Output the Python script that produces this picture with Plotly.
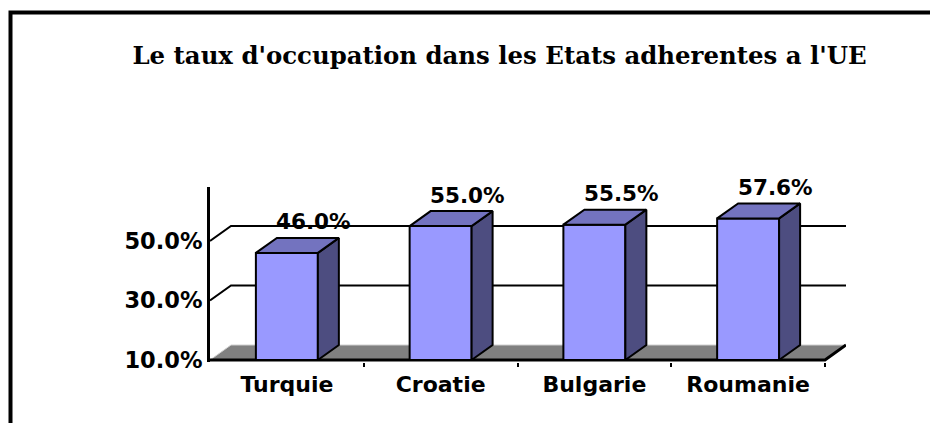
import plotly.graph_objects as go

# ---- data ----
categories = ["Turquie", "Croatie", "Bulgarie", "Roumanie"]
values = [46.0, 55.0, 55.5, 57.6]
y_tick_values = [10, 30, 50]
y_tick_labels = ["10.0%", "30.0%", "50.0%"]
title_text = "Le taux d'occupation dans les Etats adherentes a l'UE"

# ---- geometry / style (page pixels; the page body adds an 8px margin) ----
OFF = 8
W, H = 938 - OFF, 423 - OFF
def fx(px):  # page px -> figure px
    return px - OFF

floor_left_px, floor_right_px = fx(210), fx(825)   # front edge of the floor
floor_front_py = fx(360)
depth_x_px, depth_y_px = 21, 15                    # 3-D depth offset
plot_top_px, plot_bottom_px = fx(187), fx(362)
y_floor = 10.0
px_per_pct = 2.975
n = len(categories)
x_min = -0.5
x_front_max = n - 0.5
px_per_cat = (floor_right_px - floor_left_px) / (x_front_max - x_min)
dx = depth_x_px / px_per_cat
dy = depth_y_px / px_per_pct
x_max = x_front_max + dx
plot_right_px = floor_right_px + depth_x_px
y_lo = y_floor - (plot_bottom_px - floor_front_py) / px_per_pct
y_hi = y_floor + (floor_front_py - plot_top_px) / px_per_pct
bar_w = 0.403

FRONT = "#9999FF"
SIDE = "#4D4D80"
TOP = "#7373BF"
FLOOR = "#808080"

fig = go.Figure()

def poly(xs, ys, fill, lw=2, lc="black"):
    fig.add_trace(go.Scatter(
        x=xs + [xs[0]], y=ys + [ys[0]], mode="lines", fill="toself",
        fillcolor=fill, line=dict(color=lc, width=lw),
        hoverinfo="skip", showlegend=False))

def line(xs, ys, lw=2, lc="black"):
    fig.add_trace(go.Scatter(
        x=xs, y=ys, mode="lines", line=dict(color=lc, width=lw),
        hoverinfo="skip", showlegend=False))

# floor
poly([x_min, x_front_max, x_front_max + dx, x_min + dx],
     [y_floor, y_floor, y_floor + dy, y_floor + dy], FLOOR, lw=1, lc="#D0D0D0")
line([x_min, x_front_max, x_front_max + dx],
     [y_floor, y_floor, y_floor + dy], lw=3)

# side-wall + back-wall gridlines
gx, gy = [], []
for t in y_tick_values:
    if t == y_floor:
        continue
    gx += [x_min, x_min + dx, x_max, None]
    gy += [t, t + dy, t + dy, None]
line(gx, gy, lw=2)

# 3-D bars
for i, v in enumerate(values):
    l, r = i - bar_w / 2, i + bar_w / 2
    poly([l, r, r, l], [y_floor, y_floor, v, v], FRONT)
    poly([r, r + dx, r + dx, r], [y_floor, y_floor + dy, v + dy, v], SIDE)
    poly([l, r, r + dx, l + dx], [v, v, v + dy, v + dy], TOP)

# data labels
for i, v in enumerate(values):
    fig.add_annotation(
        x=i, y=v, text=f"{v:.1f}%", showarrow=False,
        xshift=27, yshift=31,
        font=dict(family="DejaVu Sans", size=21.5, color="black", weight="bold"))

axis_font = dict(family="DejaVu Sans", color="black", weight="bold")

fig.update_layout(
    width=W, height=H,
    margin=dict(l=floor_left_px, r=W - plot_right_px,
                t=plot_top_px, b=H - plot_bottom_px, pad=0),
    paper_bgcolor="white", plot_bgcolor="white",
    showlegend=False,
    title=dict(text=title_text, xref="container", yref="container",
               x=fx(499.5) / W, y=1 - fx(55) / H, xanchor="center", yanchor="middle",
               font=dict(family="DejaVu Serif", size=24.4, color="black", weight="bold")),
    xaxis=dict(range=[x_min, x_max], tickmode="array",
               tickvals=list(range(n)), ticktext=categories,
               showgrid=False, zeroline=False, showline=False, ticks="",
               tickfont=dict(size=22, **axis_font), ticklabelstandoff=7,
               minor=dict(tickmode="array", tickvals=[k + 0.5 for k in range(n)],
                          ticks="outside", ticklen=4, tickwidth=2,
                          tickcolor="black", showgrid=False),
               fixedrange=True),
    yaxis=dict(range=[y_lo, y_hi], tickmode="array",
               tickvals=y_tick_values, ticktext=y_tick_labels,
               showgrid=False, zeroline=False, showline=True,
               linecolor="black", linewidth=3, ticks="",
               tickfont=dict(size=22.5, **axis_font), ticklabelstandoff=0,
               fixedrange=True),
)

# outer frame (open at right / bottom edges of the picture)
pw = plot_right_px - floor_left_px
ph = plot_bottom_px - plot_top_px
def px_to_paper_x(px):
    return (px - floor_left_px) / pw
def px_to_paper_y(py):
    return (plot_bottom_px - py) / ph
fig.add_shape(type="rect", xref="paper", yref="paper",
              x0=px_to_paper_x(fx(10.5)), x1=px_to_paper_x(W + 20),
              y0=px_to_paper_y(fx(12.5)), y1=px_to_paper_y(H + 20),
              line=dict(color="black", width=4), fillcolor="rgba(0,0,0,0)",
              layer="above")

fig.write_html("out.html")
